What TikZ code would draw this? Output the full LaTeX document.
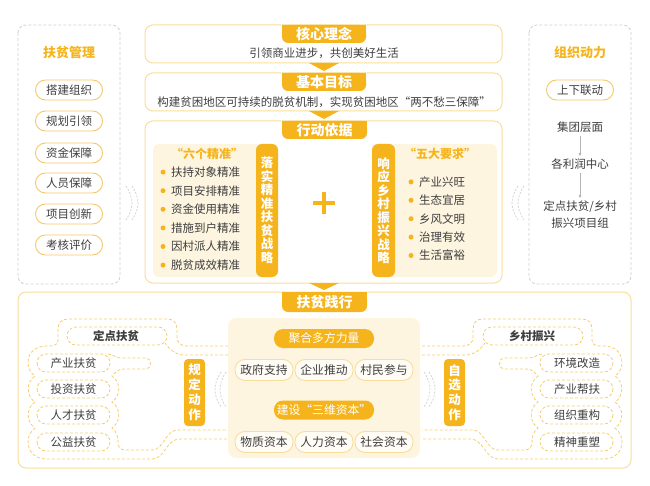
\documentclass[tikz,border=0pt]{standalone}
\usepackage{fontspec}
\setmainfont{Noto Sans CJK SC}
\usepackage{tikz}
\usetikzlibrary{arrows.meta}

\definecolor{fpOrange}{RGB}{246,180,28}
\definecolor{fpLine}{RGB}{249,222,155}
\definecolor{fpCap}{RGB}{244,200,105}
\definecolor{fpCream}{RGB}{254,245,225}
\definecolor{fpDash}{RGB}{246,206,112}
\definecolor{fpGray}{RGB}{208,208,208}
\definecolor{fpArrow}{RGB}{180,180,180}
\definecolor{fpText}{RGB}{62,62,62}
\newcommand{\fpsize}[2]{\fontsize{#1}{#2}\selectfont}

\tikzset{
  boxline/.style={draw=fpLine, line width=1pt, rounded corners=8pt},
  tabtext/.style={text=white, font=\bfseries\fpsize{14}{14}},
  titletext/.style={text=fpOrange, font=\bfseries\fpsize{13}{13}},
  plain/.style={text=fpText, font=\fpsize{11.5}{17}, inner sep=1pt},
  capsule/.style={draw=fpCap, fill=white, line width=0.9pt, rounded corners=10pt,
    minimum width=67pt, minimum height=20pt, inner sep=0pt, text=fpText, font=\fpsize{11.5}{11.5}},
  softcap/.style={draw=fpLine, fill=white!70!fpCream, line width=0.9pt, rounded corners=10pt,
    minimum width=58pt, minimum height=21pt, inner sep=0pt, text=fpText, font=\fpsize{11.8}{11.8}},
  orangecap/.style={fill=fpOrange, rounded corners=9pt, minimum width=100pt, minimum height=19pt,
    inner sep=0pt, text=white, font=\fpsize{11.8}{11.8}},
  bartext/.style={text=white, align=center, inner sep=0pt},
  dashline/.style={draw=fpDash, line width=0.8pt, dash pattern=on 3pt off 2pt},
  graydash/.style={draw=fpGray, line width=0.8pt, dash pattern=on 3pt off 2pt},
  chev/.style={draw=fpGray, line width=0.7pt, dash pattern=on 2pt off 1.5pt},
  fparrow/.style={draw=fpArrow, line width=0.6pt, -{Latex[length=3.5pt,width=3pt]}}
}

\begin{document}
\begin{tikzpicture}[x=1pt,y=-1pt]
\useasboundingbox (0,0) rectangle (650,486);

% side panels
\draw[graydash, rounded corners=8pt] (18,25) rectangle (120,284);
\node[titletext] (glTitle) at (69,53) {扶贫管理};
\node[capsule] (gl1) at (69,90) {搭建组织};
\node[capsule] (gl2) at (69,121) {规划引领};
\node[capsule] (gl3) at (69,153) {资金保障};
\node[capsule] (gl4) at (69,183) {人员保障};
\node[capsule] (gl5) at (69,214) {项目创新};
\node[capsule] (gl6) at (69,245) {考核评价};

\draw[graydash, rounded corners=8pt] (529,25) rectangle (631,284);
\node[titletext] (zzTitle) at (580,53) {组织动力};
\node[capsule] (zz1) at (580,90) {上下联动};
\node[plain] (zzJt) at (580,127) {集团层面};
\node[plain] (zzLr) at (580,164) {各利润中心};
\node[plain, align=center] (zzXm) at (580,214.5) {定点扶贫/乡村\\振兴项目组};
\draw[fparrow] ([yshift=-2pt]zzJt.south) -- ([yshift=1pt]zzLr.north);
\draw[fparrow] ([yshift=-2pt]zzLr.south) -- ([yshift=1pt]zzXm.north);

% chevrons
\foreach \s/\o in {1/0,-1/650}{
  \begin{scope}[xshift=\o pt, xscale=\s]
    \draw[chev] (126,186) .. controls (134,198) and (134,208) .. (126,220);
    \draw[chev] (132,186) .. controls (140,198) and (140,208) .. (132,220);
    \draw[chev] (221,372) .. controls (213,384) and (213,395) .. (221,407);
    \draw[chev] (226,372) .. controls (218,384) and (218,395) .. (226,407);
  \end{scope}
}

% 核心理念
\draw[boxline] (145,25) rectangle (502,63);
\fill[fpOrange] (282,25) rectangle (366,35);
\fill[fpOrange, rounded corners=6pt] (282,25) rectangle (366,43);
\node[tabtext] (hxTab) at (324,34) {核心理念};
\node[plain] (hxText) at (324,53) {引领商业进步，共创美好生活};
\fill[fpOrange] (309,63) -- (339,63) -- (324,71) -- cycle;

% 基本目标
\draw[boxline] (145,73) rectangle (502,111);
\fill[fpOrange] (282,73) rectangle (366,83);
\fill[fpOrange, rounded corners=6pt] (282,73) rectangle (366,91);
\node[tabtext] (mbTab) at (324,82) {基本目标};
\node[plain] (mbText) at (324,102) {构建贫困地区可持续的脱贫机制，实现贫困地区“两不愁三保障”};
\fill[fpOrange] (309,111) -- (339,111) -- (324,119) -- cycle;

% 行动依据
\draw[boxline] (145,121) rectangle (502,283);
\fill[fpOrange] (282,121) rectangle (367,131);
\fill[fpOrange, rounded corners=6pt] (282,121) rectangle (367,139);
\node[tabtext] (yjTab) at (324.5,130) {行动依据};

\fill[fpCream, rounded corners=6pt] (153,144) rectangle (278,277);
\fill[fpOrange, rounded corners=6pt] (256,144) rectangle (278,277);
\node[bartext, font=\bfseries\fpsize{12.5}{13.5}] (jzBar) at (267,210.5) {落\\实\\精\\准\\扶\\贫\\战\\略};
\node[titletext, font=\bfseries\fpsize{12}{12}] (jzTitle) at (207,154) {“六个精准”};
\foreach \t [count=\i] in {扶持对象精准,项目安排精准,资金使用精准,措施到户精准,因村派人精准,脱贫成效精准}{
  \fill[fpOrange] (163,153.5+18.6*\i) circle (2.5pt);
  \node[plain, anchor=west] (jz\i) at (170,153.5+18.6*\i) {\t};
}

\fill[fpCream, rounded corners=6pt] (372,144) rectangle (497,277);
\fill[fpOrange, rounded corners=6pt] (372,144) rectangle (395,277);
\node[bartext, font=\bfseries\fpsize{12.5}{13.5}] (zxBar) at (383.5,210.5) {响\\应\\乡\\村\\振\\兴\\战\\略};
\node[titletext, font=\bfseries\fpsize{12}{12}] (zxTitle) at (440,154) {“五大要求”};
\foreach \t [count=\i] in {产业兴旺,生态宜居,乡风文明,治理有效,生活富裕}{
  \fill[fpOrange] (411,163.5+18.4*\i) circle (2.5pt);
  \node[plain, anchor=west] (zx\i) at (418,163.5+18.4*\i) {\t};
}

\draw[fpOrange, line width=4.5pt] (313,203) -- (335,203);
\draw[fpOrange, line width=4.5pt] (324,192) -- (324,214);
\fill[fpOrange] (309,283) -- (339,283) -- (324,290) -- cycle;

% 扶贫践行
\draw[boxline] (18,292) rectangle (631,468);

\foreach \s/\o in {1/0,-1/650}{
  \begin{scope}[xshift=\o pt, xscale=\s]
    \draw[dashline, rounded corners=9pt] (67,327) rectangle (167,345);
    \draw[dashline] (228,355) -- (184,355) .. controls (176,355) and (170,350) .. (165,343);
    \foreach \y in {363,389,415,442}
      \draw[dashline, rounded corners=9pt] (37,\y-9) rectangle (110,\y+9);
    \draw[dashline] (228,346) -- (187,346) .. controls (181,346) and (177,343) .. (177,337)
      -- (177,330) .. controls (177,323) and (174,319) .. (167,319) -- (68,319)
      .. controls (61,319) and (58,323) .. (58,330) -- (58,340) .. controls (58,344) and (55,346) .. (50,346)
      -- (46,346) .. controls (36,346) and (28,352) .. (28,363) .. controls (28,369) and (31,373) .. (35,376)
      .. controls (26,382) and (26,396) .. (35,402) .. controls (26,408) and (26,422) .. (35,428)
      .. controls (31,431) and (28,436) .. (28,442) .. controls (28,452) and (36,459) .. (46,459)
      -- (152,459) .. controls (165,459) and (166,439) .. (180,439) -- (228,439);
    \draw[dashline] (108,354) .. controls (113,354) and (115,358) .. (121,358) -- (146,358)
      .. controls (152,358) and (152,369) .. (146,369) -- (124,369) .. controls (118,369) and (116,372) .. (112,376)
      .. controls (121,382) and (121,396) .. (112,402) .. controls (121,408) and (121,422) .. (112,428)
      .. controls (117,432) and (118,437) .. (118,442) .. controls (118,447) and (120,450) .. (126,450)
      -- (152,450) .. controls (164,450) and (165,430) .. (178,430) -- (228,430);
  \end{scope}
}

\fill[fpOrange] (282,292) rectangle (367,302);
\fill[fpOrange, rounded corners=6pt] (282,292) rectangle (367,312);
\node[tabtext] (sxTab) at (324.5,302) {扶贫践行};

\fill[fpCream, rounded corners=8pt] (228,318) rectangle (420,458);
\node[orangecap] (jhCap) at (324,338.5) {聚合多方力量};
\node[softcap] (jh1) at (264,370) {政府支持};
\node[softcap] (jh2) at (324,370) {企业推动};
\node[softcap] (jh3) at (384,370) {村民参与};
\node[orangecap] (swCap) at (324,410) {建设“三维资本”};
\node[softcap] (sw1) at (264,442) {物质资本};
\node[softcap] (sw2) at (324,442) {人力资本};
\node[softcap] (sw3) at (384,442) {社会资本};

\fill[fpOrange, rounded corners=4pt] (184,359) rectangle (205,426);
\node[bartext, font=\bfseries\fpsize{12.5}{14.8}] (gdBar) at (194.5,392.5) {规\\定\\动\\作};
\fill[fpOrange, rounded corners=4pt] (444,359) rectangle (465,426);
\node[bartext, font=\bfseries\fpsize{12.5}{14.8}] (zdBar) at (454.5,392.5) {自\\选\\动\\作};

\node[plain, font=\bfseries\fpsize{11.5}{11.5}] (ddTitle) at (116,336) {定点扶贫};
\node[plain] (dd1) at (73.5,363) {产业扶贫};
\node[plain] (dd2) at (73.5,389) {投资扶贫};
\node[plain] (dd3) at (73.5,415) {人才扶贫};
\node[plain] (dd4) at (73.5,442) {公益扶贫};
\node[plain, font=\bfseries\fpsize{11.5}{11.5}] (zxgTitle) at (532,336) {乡村振兴};
\node[plain] (zxg1) at (577,363) {环境改造};
\node[plain] (zxg2) at (577,389) {产业帮扶};
\node[plain] (zxg3) at (577,415) {组织重构};
\node[plain] (zxg4) at (577,442) {精神重塑};
\end{tikzpicture}
\end{document}
